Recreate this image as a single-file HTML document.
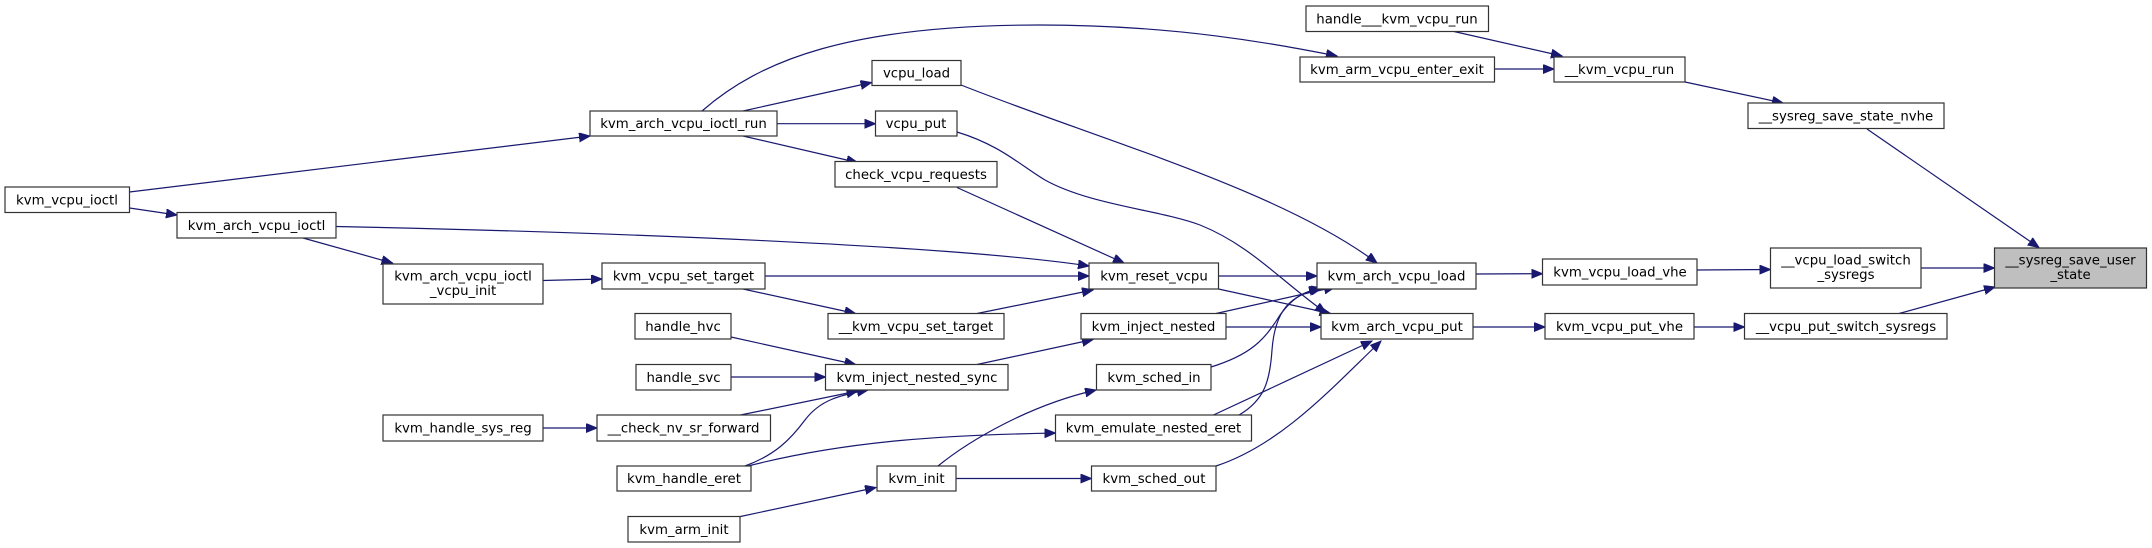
<!DOCTYPE html>
<html><head><meta charset="utf-8"><style>
html,body{margin:0;padding:0;background:#fff;}
svg{display:block;}
text{font-family:"DejaVu Sans","Liberation Sans",sans-serif;font-size:13.3px;fill:#000;text-anchor:middle;}
rect{fill:#fff;stroke:#333;stroke-width:1.2;}
path{fill:none;stroke:#191970;stroke-width:1.2;}
</style></head><body>
<svg width="2152" height="548" viewBox="0 0 2152 548" xmlns="http://www.w3.org/2000/svg">
<defs><marker id="a" markerUnits="userSpaceOnUse" markerWidth="12" markerHeight="10" refX="11" refY="4.5" orient="auto"><polygon points="0,0 11,4.5 0,9" fill="#191970" stroke="#191970"/></marker></defs>
<g marker-end="url(#a)">
<path d="M1454,31.5 L1562,56"/>
<path d="M1494.5,69 L1554,69"/>
<path d="M1685,82 L1783,103"/>
<path d="M1867,129 L2039,247.5"/>
<path d="M1921,268 L1994.5,268"/>
<path d="M1899,313.5 L1995,287"/>
<path d="M1697,270 L1770.5,269.5"/>
<path d="M1694,327 L1744.5,327"/>
<path d="M1476,274 L1542.5,273.7"/>
<path d="M1473,327 L1545,327"/>
<path d="M702,111 C760,60 850,25 1040,25 C1180,25 1280,45 1337,56"/>
<path d="M743,111 L871.5,82.5"/>
<path d="M777,123.7 L875.5,123.7"/>
<path d="M743,136 L857.5,162.5"/>
<path d="M961,85 C1100,140 1280,190 1377,263"/>
<path d="M957,132 C1000,145 1020,165 1045,180 C1090,205 1160,210 1200,225 C1250,245 1280,280 1326,313"/>
<path d="M957,187.5 L1124,263"/>
<path d="M336,226.5 C600,232 950,245 1089,266"/>
<path d="M765,276 L1089,276"/>
<path d="M743,289 L855.5,313.5"/>
<path d="M977,313.5 L1093,290"/>
<path d="M1218.5,276 L1317,276"/>
<path d="M1218.5,289 L1330.5,313.5"/>
<path d="M1216,313.5 L1335,287"/>
<path d="M1226,327 L1321,327"/>
<path d="M1211,367 C1250,355 1265,340 1280,315 C1295,295 1305,292 1320,288"/>
<path d="M1213.5,415 L1372,341"/>
<path d="M1239,415 C1265,400 1270,380 1272,350 C1275,310 1290,295 1322,288"/>
<path d="M1216,466 C1280,445 1330,390 1381,341"/>
<path d="M956,478.5 L1091.5,478.5"/>
<path d="M938,466 C970,440 1030,405 1096,390"/>
<path d="M748,466 C850,440 950,435 1055.5,433"/>
<path d="M745,466 C775,455 790,440 805,420 C820,400 840,395 868,390"/>
<path d="M731,337 L855.5,364.5"/>
<path d="M731,377 L825.5,377"/>
<path d="M740.5,415 L857.5,391"/>
<path d="M977,364.5 L1093,339.5"/>
<path d="M740.5,516.5 L876,487.5"/>
<path d="M129.5,192 L590,136"/>
<path d="M129.5,208 L177,215"/>
<path d="M303,238 L392.5,263"/>
<path d="M543,280.5 L602,279"/>
<path d="M543,428 L597,428"/>
</g>
<g>
<rect x="5" y="187" width="124.5" height="25.5"/><text x="67" y="204.5">kvm_vcpu_ioctl</text>
<rect x="590" y="111" width="187" height="25"/><text x="683.5" y="128">kvm_arch_vcpu_ioctl_run</text>
<rect x="177" y="212.5" width="159" height="25.5"/><text x="256.5" y="230">kvm_arch_vcpu_ioctl</text>
<rect x="383" y="264" width="160" height="40"/><text x="463" y="280.5">kvm_arch_vcpu_ioctl</text><text x="463" y="295">_vcpu_init</text>
<rect x="602" y="263" width="163" height="26"/><text x="683.5" y="280.5">kvm_vcpu_set_target</text>
<rect x="635" y="313.5" width="96" height="25.5"/><text x="683" y="331">handle_hvc</text>
<rect x="636" y="364.5" width="95" height="25.5"/><text x="683.5" y="382">handle_svc</text>
<rect x="383" y="415" width="160" height="26"/><text x="463" y="432.5">kvm_handle_sys_reg</text>
<rect x="597" y="415" width="173.5" height="26"/><text x="683.5" y="432.5">__check_nv_sr_forward</text>
<rect x="617" y="466" width="134" height="25"/><text x="684" y="483">kvm_handle_eret</text>
<rect x="628" y="516.5" width="112" height="25.5"/><text x="684" y="534">kvm_arm_init</text>
<rect x="1306" y="6" width="182.5" height="25.5"/><text x="1397" y="23.5">handle___kvm_vcpu_run</text>
<rect x="1300" y="57" width="194.5" height="25"/><text x="1397" y="74">kvm_arm_vcpu_enter_exit</text>
<rect x="872" y="60.5" width="89" height="25"/><text x="916.5" y="77.5">vcpu_load</text>
<rect x="875.5" y="111" width="81.5" height="25"/><text x="916" y="128">vcpu_put</text>
<rect x="835" y="161.5" width="162" height="25.5"/><text x="916" y="179">check_vcpu_requests</text>
<rect x="1089" y="263" width="129.5" height="26"/><text x="1154" y="280.5">kvm_reset_vcpu</text>
<rect x="1317" y="263" width="159" height="26"/><text x="1396.5" y="280.5">kvm_arch_vcpu_load</text>
<rect x="1321" y="313.5" width="152" height="25.5"/><text x="1397" y="331">kvm_arch_vcpu_put</text>
<rect x="828" y="313.5" width="176" height="25.5"/><text x="916" y="331">__kvm_vcpu_set_target</text>
<rect x="1081" y="313.5" width="145" height="25.5"/><text x="1153.5" y="331">kvm_inject_nested</text>
<rect x="825.5" y="364.5" width="182.5" height="25.5"/><text x="917" y="382">kvm_inject_nested_sync</text>
<rect x="1096.5" y="364.5" width="114.5" height="25.5"/><text x="1154" y="382">kvm_sched_in</text>
<rect x="1055.5" y="415" width="196" height="26"/><text x="1153.5" y="432.5">kvm_emulate_nested_eret</text>
<rect x="877" y="466" width="79" height="25"/><text x="916.5" y="483">kvm_init</text>
<rect x="1091.5" y="466" width="124.5" height="25"/><text x="1154" y="483">kvm_sched_out</text>
<rect x="1554" y="57" width="131" height="25"/><text x="1619.5" y="74">__kvm_vcpu_run</text>
<rect x="1748" y="103" width="196" height="25.5"/><text x="1846" y="120.5">__sysreg_save_state_nvhe</text>
<rect x="1542.5" y="259" width="154.5" height="26"/><text x="1620" y="276.5">kvm_vcpu_load_vhe</text>
<rect x="1770.5" y="248" width="150.5" height="40"/><text x="1846" y="264.5">__vcpu_load_switch</text><text x="1846" y="279">_sysregs</text>
<rect x="1994.5" y="248" width="152" height="40" style="fill:#bfbfbf"/><text x="2070.5" y="264.5">__sysreg_save_user</text><text x="2070.5" y="279">_state</text>
<rect x="1545" y="313.5" width="149" height="25.5"/><text x="1619.5" y="331">kvm_vcpu_put_vhe</text>
<rect x="1744.5" y="313.5" width="202.5" height="25.5"/><text x="1846" y="331">__vcpu_put_switch_sysregs</text>
</g>
</svg>
</body></html>
